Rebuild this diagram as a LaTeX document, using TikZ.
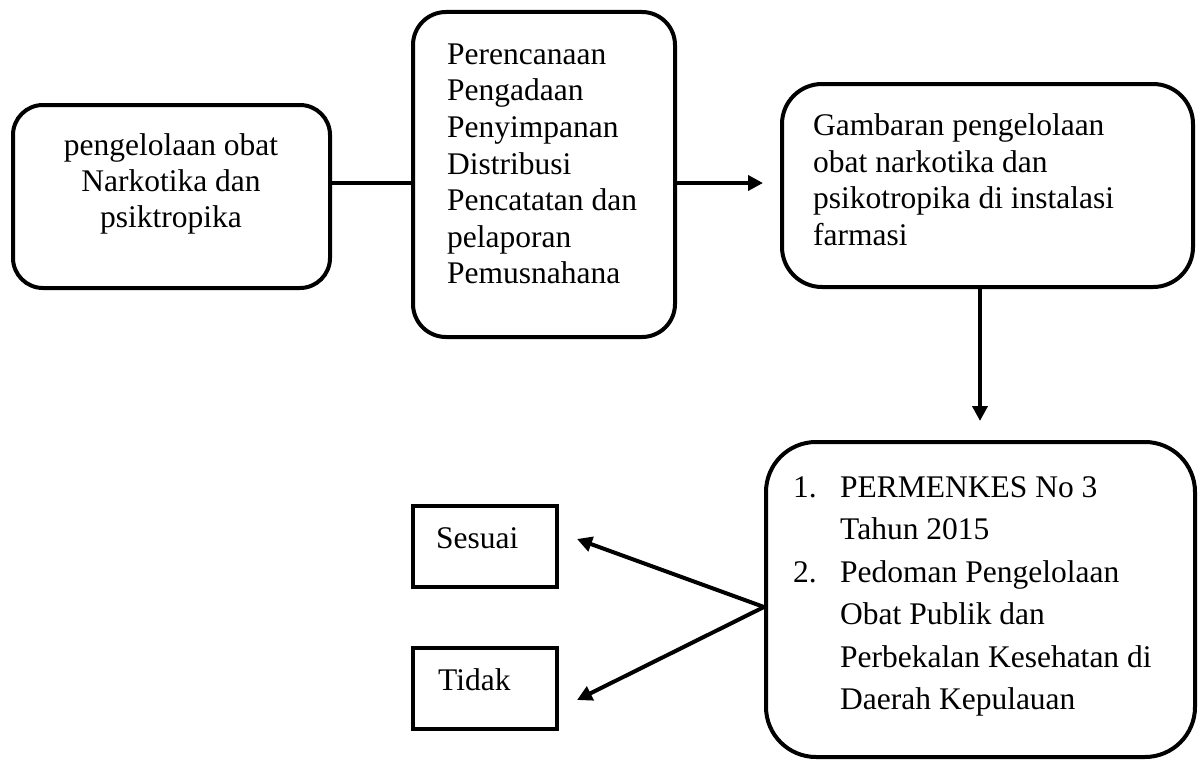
\documentclass[tikz,border=0pt]{standalone}
\usepackage{fontspec}
\setmainfont{Liberation Serif}
\usetikzlibrary{arrows.meta}
\begin{document}
\begin{tikzpicture}[x=1pt,y=-1pt,
  rbox/.style={draw, line width=4pt, rounded corners=#1, inner sep=0pt},
  sbox/.style={draw, line width=4pt, inner sep=0pt, minimum width=144pt, minimum height=81pt},
  txt/.style={anchor=north west, inner sep=0pt, align=left, font=\fontsize{31.5}{36.6}\selectfont},
  ctxt/.style={anchor=north, inner sep=0pt, align=center, font=\fontsize{31.5}{36}\selectfont},
  conn/.style={line width=4pt},
  arr/.style={line width=4pt, -{Triangle[length=15pt,width=15pt]}}]
\useasboundingbox (0,0) rectangle (1202,760);
% boxes
\node[rbox=30pt, minimum width=317pt, minimum height=183pt] (b1) at (171.5,196.5) {};
\node[rbox=33pt, minimum width=262pt, minimum height=325pt] (b2) at (544,174.5) {};
\node[rbox=40pt, minimum width=411pt, minimum height=203pt] (b3) at (987.5,185.5) {};
\node[rbox=50pt, minimum width=429pt, minimum height=315pt] (b4) at (980.5,599.5) {};
\node[sbox] (s) at (485,546.5) {};
\node[sbox] (t) at (485,688) {};
% texts
\node[ctxt] (t1) at (171,133.5) {pengelolaan obat\\Narkotika dan\\psiktropika};
\node[txt] (t2) at (447,43.5) {Perencanaan\\Pengadaan\\Penyimpanan\\Distribusi\\Pencatatan dan\\pelaporan\\Pemusnahana};
\node[txt] (t3) at (813,113.5) {Gambaran pengelolaan\\obat narkotika dan\\psikotropika di instalasi\\farmasi};
\node[txt, font=\fontsize{31.5}{42.4}\selectfont] (t4) at (793,476.5) {\makebox[47pt][l]{1.}PERMENKES No 3\\\hspace*{47pt}Tahun 2015\\\makebox[47pt][l]{2.}Pedoman Pengelolaan\\\hspace*{47pt}Obat Publik dan\\\hspace*{47pt}Perbekalan Kesehatan di\\\hspace*{47pt}Daerah Kepulauan};
\node[anchor=base west, inner sep=0pt, font=\fontsize{31.5}{36}\selectfont] (ts) at (436,548) {Sesuai};
\node[anchor=base west, inner sep=0pt, font=\fontsize{31.5}{36}\selectfont] (tt) at (438,690) {Tidak};
% connectors
\coordinate (c1) at ([yshift=13.5pt]b1.east);
\coordinate (c2) at ([yshift=-8.5pt]b2.east);
\draw[conn] (c1) -- (c1 -| b2.west);
\draw[arr, shorten >=17pt] (c2) -- (c2 -| b3.west);
\draw[arr, shorten >=19pt] ([xshift=-7.5pt]b3.south) -- ([xshift=-7.5pt]b3.south |- b4.north);
\draw[arr] ([yshift=-7.5pt]b4.west) -- ([xshift=18pt,yshift=7.5pt]s.east);
\draw[arr] ([yshift=-7.5pt]b4.west) -- ([xshift=18pt,yshift=-12pt]t.east);
\end{tikzpicture}
\end{document}
